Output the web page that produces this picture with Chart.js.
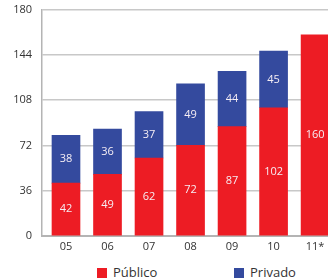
<!DOCTYPE html>
<html>
<head>
<meta charset="utf-8">
<script src="https://cdn.jsdelivr.net/npm/chart.js@4.4.1/dist/chart.umd.min.js"></script>
<style>
    html, body { margin: 0; padding: 0; background: #fff; overflow: hidden; }
    #wrap { position: relative; width: 328px; height: 280px; overflow: hidden; }
    #box { position: absolute; left: 0; top: -7px; width: 340px; height: 265px; }
    .key { position: absolute; top: 263px; font: 13px "Open Sans", sans-serif; color: #333; line-height: 18px; }
    .key i { display: inline-block; width: 10px; height: 10px; margin-right: 6px; vertical-align: -1px; }
</style>
</head>
<body>
<div id="wrap">
    <div id="box"><canvas id="chart"></canvas></div>
    <div class="key" style="left:97px"><i style="background:#ed1c24"></i>Público</div>
    <div class="key" style="left:234px"><i style="background:#344a9e"></i>Privado</div>
</div>
<script>
// --- chart data --- //
const years = ['05', '06', '07', '08', '09', '10', '11*'];
const publico = [42, 49, 62, 72, 87, 102, 160];
const privado = [38, 36, 37, 49, 44, 45, null];
const yTicks = [0, 36, 72, 108, 144, 180];

const RED = '#ed1c24';
const BLUE = '#344a9e';

// values written in the middle of each bar segment
const segmentLabels = {
    id: 'segmentLabels',
    afterDatasetsDraw(chart) {
        const ctx = chart.ctx;
        ctx.save();
        ctx.font = '11px "Open Sans", sans-serif';
        ctx.fillStyle = '#f6eef4';
        ctx.textAlign = 'center';
        ctx.textBaseline = 'middle';
        chart.data.datasets.forEach((ds, i) => {
            chart.getDatasetMeta(i).data.forEach((bar, j) => {
                const v = ds.data[j].y;
                if (v == null) return;
                ctx.fillText(String(v), bar.x, (bar.y + bar.base) / 2);
            });
        });
        ctx.restore();
    }
};

new Chart(document.getElementById('chart'), {
    type: 'bar',
    data: {
        datasets: [
            { label: 'Público', data: publico.map((v, i) => ({ x: i, y: v })), backgroundColor: RED },
            { label: 'Privado', data: privado.map((v, i) => ({ x: i, y: v })), backgroundColor: BLUE }
        ]
    },
    options: {
        responsive: true,
        maintainAspectRatio: false,
        animation: false,
        layout: { padding: { top: 3, left: 0, right: 0, bottom: 0 } },
        datasets: { bar: { barThickness: 28 } },
        plugins: { legend: { display: false }, tooltip: { enabled: false } },
        scales: {
            x: {
                type: 'linear',
                stacked: true,
                offset: false,
                min: -0.578,
                max: 6.6,
                afterBuildTicks: axis => { axis.ticks = years.map((y, i) => ({ value: i })); },
                afterFit: axis => { axis.height = 22; },
                grid: { display: false, drawTicks: false },
                border: { color: '#b4b4b4', width: 2 },
                ticks: {
                    padding: 4,
                    color: '#333',
                    font: { family: '"Open Sans", sans-serif', size: 11 },
                    callback: v => years[v]
                }
            },
            y: {
                stacked: true,
                min: 0,
                max: 180,
                afterBuildTicks: axis => { axis.ticks = yTicks.map(v => ({ value: v })); },
                afterFit: axis => { axis.width = 42; },
                grid: { color: '#c8c8c8', lineWidth: 1.5, drawTicks: false },
                border: { color: '#b4b4b4', width: 1.5 },
                ticks: {
                    padding: 10,
                    color: '#333',
                    font: { family: '"Open Sans", sans-serif', size: 11 }
                }
            }
        }
    },
    plugins: [segmentLabels]
});
</script>
</body>
</html>
